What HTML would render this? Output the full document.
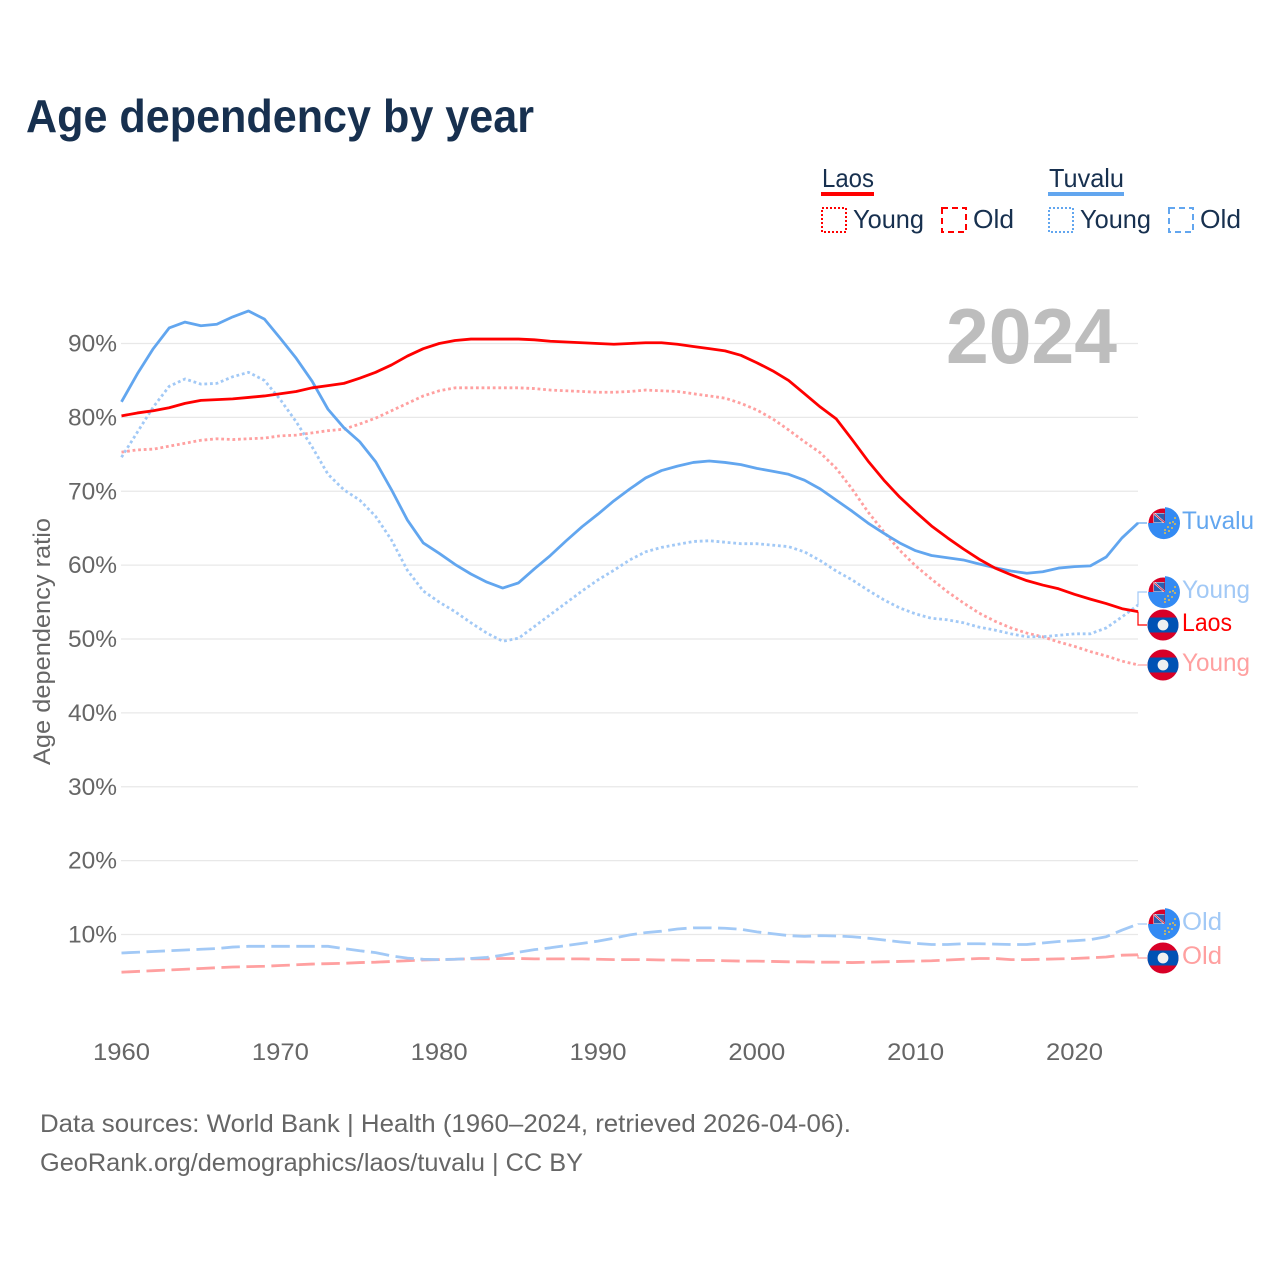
<!DOCTYPE html>
<html lang="en">
<head>
<meta charset="utf-8">
<title>Age dependency by year</title>
<style>
html,body{margin:0;padding:0;background:#fff;}
svg{display:block;font-family:"Liberation Sans",sans-serif;}
</style>
</head>
<body>
<svg id="chart" width="1280" height="1280" viewBox="0 0 1280 1280" xmlns="http://www.w3.org/2000/svg">
<defs>
<clipPath id="flag-clip"><circle cx="0" cy="0" r="15.5"/></clipPath>
<clipPath id="canton-clip"><rect x="-16" y="-16" width="18" height="16"/></clipPath>
<g id="laos-flag">
<g clip-path="url(#flag-clip)">
<rect x="-16" y="-16" width="32" height="32" fill="#d80027"/>
<rect x="-16" y="-7.5" width="32" height="15" fill="#0052b4"/>
<circle cx="0" cy="0" r="5.4" fill="#f0f0f0"/>
</g>
</g>
<g id="tuvalu-flag">
<path d="M2,-15.9 A16,16 0 1 1 -15,0 L2,0 Z" fill="#338af3"/>
<g clip-path="url(#canton-clip)">
<circle cx="0" cy="0" r="14.5" fill="#d80027"/>
<rect x="-9.5" y="-10" width="11" height="10" fill="#f0f0f0"/>
<rect x="-9" y="-9.5" width="10.5" height="9" fill="#2a5fb0"/>
<path d="M-9,-9.5 L1,-0.8" stroke="#f0f0f0" stroke-width="2"/>
<path d="M-9,-9.5 L1,-0.8" stroke="#d80027" stroke-width="0.8"/>
</g>
<g fill="#e6c04c">
<circle cx="12" cy="-5" r="1"/><circle cx="10" cy="-1" r="1"/><circle cx="12" cy="1" r="1"/>
<circle cx="7" cy="0" r="1"/><circle cx="5" cy="4" r="1"/><circle cx="9" cy="5" r="1"/>
<circle cx="2" cy="7" r="1"/><circle cx="6" cy="8" r="1"/><circle cx="2" cy="10" r="1"/>
</g>
</g>
</defs>

<text x="26" y="132" font-size="46" font-weight="700" fill="#17304f" textLength="508" lengthAdjust="spacingAndGlyphs">Age dependency by year</text>

<g font-size="26" fill="#17304f">
<text x="822" y="187" textLength="52" lengthAdjust="spacingAndGlyphs">Laos</text>
<rect x="821" y="192" width="53" height="4" fill="#ff0000"/>
<rect x="822" y="208" width="24" height="24" fill="none" stroke="#ff0000" stroke-width="2" stroke-dasharray="2 2"/>
<text x="853" y="228" textLength="71" lengthAdjust="spacingAndGlyphs">Young</text>
<rect x="942" y="208" width="24" height="24" fill="none" stroke="#ff0000" stroke-width="2" stroke-dasharray="6 4"/>
<text x="973" y="228" textLength="41" lengthAdjust="spacingAndGlyphs">Old</text>
<text x="1049" y="187" textLength="75" lengthAdjust="spacingAndGlyphs">Tuvalu</text>
<rect x="1048" y="192" width="76" height="4" fill="#62a6ef"/>
<rect x="1049" y="208" width="24" height="24" fill="none" stroke="#62a6ef" stroke-width="2" stroke-dasharray="2 2"/>
<text x="1080" y="228" textLength="71" lengthAdjust="spacingAndGlyphs">Young</text>
<rect x="1169" y="208" width="24" height="24" fill="none" stroke="#62a6ef" stroke-width="2" stroke-dasharray="6 4"/>
<text x="1200" y="228" textLength="41" lengthAdjust="spacingAndGlyphs">Old</text>
</g>

<g id="grid"></g>
<g id="y-ticks"></g>
<g id="x-ticks"></g>
<text transform="translate(50,765) rotate(-90)" x="0" y="0" font-size="24" fill="#666666" textLength="247" lengthAdjust="spacingAndGlyphs">Age dependency ratio</text>
<text x="946" y="363" font-size="78" font-weight="700" fill="#bdbdbd" textLength="171" lengthAdjust="spacingAndGlyphs">2024</text>
<g id="series"></g>
<g id="labels"></g>

<g font-size="25" fill="#666666">
<text x="40" y="1132" textLength="811" lengthAdjust="spacingAndGlyphs">Data sources: World Bank | Health (1960–2024, retrieved 2026-04-06).</text>
<text x="40" y="1171" textLength="543" lengthAdjust="spacingAndGlyphs">GeoRank.org/demographics/laos/tuvalu | CC BY</text>
</g>

<script>
const firstYear = 1960;
const lastYear = 2024;
const yTickValues = [10, 20, 30, 40, 50, 60, 70, 80, 90];
const xTickYears = [1960, 1970, 1980, 1990, 2000, 2010, 2020];

const laosTotal = [80.2,80.6,80.9,81.3,81.9,82.3,82.4,82.5,82.7,82.9,83.2,83.5,84,84.3,84.6,85.3,86.1,87.1,88.3,89.3,90,90.4,90.6,90.6,90.6,90.6,90.5,90.3,90.2,90.1,90,89.9,90,90.1,90.1,89.9,89.6,89.3,89,88.4,87.4,86.3,85,83.2,81.4,79.8,77,74.1,71.5,69.2,67.2,65.3,63.7,62.2,60.8,59.6,58.7,57.9,57.3,56.8,56.05,55.4,54.8,54.1,53.7];
const laosYoung = [75.3,75.6,75.7,76.1,76.5,76.9,77.1,77,77.1,77.2,77.5,77.6,77.9,78.2,78.4,79.1,79.9,80.9,81.9,82.9,83.6,84,84,84,84,84,83.9,83.7,83.6,83.5,83.4,83.4,83.5,83.7,83.6,83.5,83.2,82.9,82.6,81.9,81,79.8,78.3,76.7,75.2,73.1,70.3,67.2,64.5,62,59.9,58.1,56.4,54.9,53.5,52.4,51.5,50.8,50.3,49.6,49,48.3,47.7,47,46.5];
const laosOld = [4.9,5,5.1,5.2,5.3,5.4,5.5,5.6,5.65,5.7,5.8,5.9,6,6.05,6.1,6.2,6.25,6.35,6.45,6.55,6.6,6.65,6.7,6.7,6.75,6.75,6.7,6.7,6.7,6.7,6.65,6.6,6.6,6.6,6.55,6.55,6.5,6.5,6.45,6.4,6.4,6.35,6.3,6.3,6.25,6.25,6.2,6.25,6.3,6.35,6.4,6.45,6.55,6.65,6.75,6.75,6.6,6.6,6.65,6.7,6.75,6.85,6.95,7.2,7.25];
const tuvaluTotal = [82.1,85.9,89.3,92.1,92.9,92.4,92.6,93.6,94.4,93.3,90.7,88,84.9,81.1,78.6,76.7,74,70.2,66.1,63,61.6,60.1,58.8,57.7,56.9,57.6,59.5,61.3,63.3,65.2,66.9,68.7,70.3,71.8,72.8,73.4,73.9,74.1,73.9,73.6,73.1,72.7,72.3,71.5,70.3,68.8,67.3,65.7,64.3,63,61.95,61.3,61,60.7,60.15,59.65,59.2,58.9,59.1,59.6,59.8,59.9,61.1,63.7,65.7];
const tuvaluYoung = [74.6,78,81.4,84.2,85.2,84.5,84.6,85.5,86.1,85,82.4,79.4,76,72.3,70.2,68.8,66.6,63.4,59.3,56.5,55,53.7,52.2,50.8,49.7,50.1,51.7,53.3,54.9,56.5,58,59.3,60.7,61.8,62.4,62.8,63.2,63.3,63.1,62.9,62.9,62.7,62.5,61.8,60.6,59.2,58,56.6,55.3,54.2,53.4,52.8,52.6,52.2,51.6,51.2,50.7,50.3,50.3,50.5,50.7,50.7,51.5,53,54.6];
const tuvaluOld = [7.5,7.6,7.7,7.8,7.9,8,8.1,8.3,8.4,8.4,8.4,8.4,8.4,8.4,8.1,7.8,7.55,7.1,6.8,6.65,6.6,6.65,6.75,6.9,7.2,7.6,7.95,8.2,8.5,8.8,9.1,9.5,9.95,10.25,10.45,10.75,10.9,10.9,10.85,10.7,10.35,10.1,9.85,9.75,9.85,9.8,9.7,9.5,9.25,9,8.8,8.65,8.65,8.75,8.75,8.7,8.65,8.65,8.85,9.05,9.15,9.3,9.7,10.6,11.4];

const SVG_NS = 'http://www.w3.org/2000/svg';
function xScale(year) { return 121.5 + (year - firstYear) * (1138 - 121.5) / (lastYear - firstYear); }
function yScale(v) { return 343.5 + (90 - v) * 7.3875; }
function make(tag, parent) {
  const el = document.createElementNS(SVG_NS, tag);
  parent.appendChild(el);
  return el;
}

const gridGroup = document.getElementById('grid');
const yTickGroup = document.getElementById('y-ticks');
const xTickGroup = document.getElementById('x-ticks');
const seriesGroup = document.getElementById('series');
const labelGroup = document.getElementById('labels');

yTickValues.forEach(function (v) {
  const line = make('line', gridGroup);
  
  
  line.setAttribute('x1', 121);
  line.setAttribute('x2', 1138);
  line.setAttribute('y1', yScale(v));
  line.setAttribute('y2', yScale(v));
  line.setAttribute('stroke', '#e8e8e8');
  line.setAttribute('stroke-width', 1.2);
  const t = make('text', yTickGroup);
  
  
  t.setAttribute('x', 68);
  t.setAttribute('y', yScale(v) + 8);
  t.setAttribute('font-size', 24);
  t.setAttribute('fill', '#666666');
  t.setAttribute('textLength', 49);
  t.setAttribute('lengthAdjust', 'spacingAndGlyphs');
  t.textContent = v + '%';
});

xTickYears.forEach(function (yr) {
  const t = make('text', xTickGroup);
  
  
  t.setAttribute('x', xScale(yr) - 28.5);
  t.setAttribute('y', 1060);
  t.setAttribute('font-size', 24);
  t.setAttribute('fill', '#666666');
  t.setAttribute('textLength', 57);
  t.setAttribute('lengthAdjust', 'spacingAndGlyphs');
  t.textContent = yr;
});

function drawSeries(values, name, color, dash, width) {
  const p = make('path', seriesGroup);
  
  
  let d = '';
  values.forEach(function (v, i) {
    d += (i ? 'L' : 'M') + xScale(firstYear + i).toFixed(2) + ',' + yScale(v).toFixed(2);
  });
  p.setAttribute('d', d);
  p.setAttribute('fill', 'none');
  p.setAttribute('stroke', color);
  p.setAttribute('stroke-width', width);
  p.setAttribute('stroke-linejoin', 'round');
  if (dash) { p.setAttribute('stroke-dasharray', dash); }
}
drawSeries(laosOld, 'line-laos-old', '#ffa0a0', '18.5 6.5', 2.8);
drawSeries(tuvaluOld, 'line-tuvalu-old', '#a2c9f6', '18.5 6.5', 2.8);
drawSeries(laosYoung, 'line-laos-young', '#ffa0a0', '2.8 2.8', 2.8);
drawSeries(tuvaluYoung, 'line-tuvalu-young', '#a2c9f6', '2.8 2.8', 2.8);
drawSeries(tuvaluTotal, 'line-tuvalu-total', '#62a6ef', '', 2.8);
drawSeries(laosTotal, 'line-laos-total', '#ff0000', '', 2.8);

function drawEndLabel(values, labelY, text, flag, color, textWidth, name) {
  const endX = xScale(lastYear);
  const endY = yScale(values[values.length - 1]);
  const conn = make('path', labelGroup);
  
  
  conn.setAttribute('d', 'M' + endX + ',' + endY + 'L' + endX + ',' + labelY + 'L1147,' + labelY);
  conn.setAttribute('fill', 'none');
  conn.setAttribute('stroke', color);
  conn.setAttribute('stroke-width', 1.2);
  const icon = make('use', labelGroup);
  
  
  icon.setAttribute('href', '#' + flag);
  icon.setAttribute('transform', 'translate(1163,' + labelY + ')');
  const t = make('text', labelGroup);
  
  
  t.setAttribute('x', 1182);
  t.setAttribute('y', labelY + 6);
  t.setAttribute('font-size', 25);
  t.setAttribute('fill', color);
  t.setAttribute('textLength', textWidth);
  t.setAttribute('lengthAdjust', 'spacingAndGlyphs');
  t.textContent = text;
}
drawEndLabel(tuvaluTotal, 523, 'Tuvalu', 'tuvalu-flag', '#62a6ef', 72, 'tuvalu-total');
drawEndLabel(tuvaluYoung, 592, 'Young', 'tuvalu-flag', '#a2c9f6', 68, 'tuvalu-young');
drawEndLabel(laosTotal, 625, 'Laos', 'laos-flag', '#ff0000', 50, 'laos-total');
drawEndLabel(laosYoung, 665, 'Young', 'laos-flag', '#ffa0a0', 68, 'laos-young');
drawEndLabel(tuvaluOld, 924, 'Old', 'tuvalu-flag', '#a2c9f6', 40, 'tuvalu-old');
drawEndLabel(laosOld, 958, 'Old', 'laos-flag', '#ffa0a0', 40, 'laos-old');
</script>
</svg>
</body>
</html>
